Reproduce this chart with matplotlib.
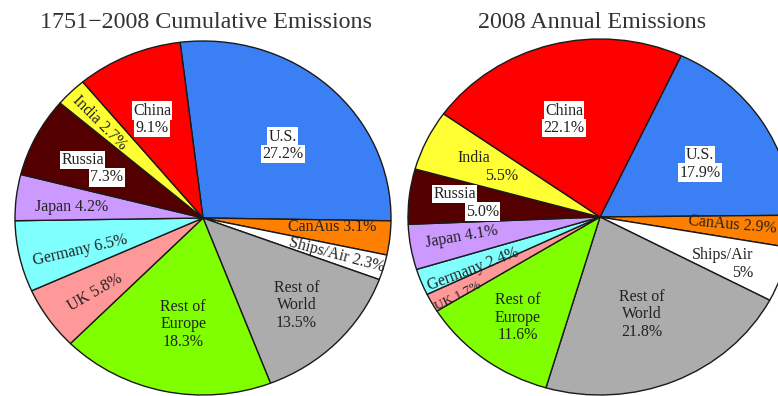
import numpy as np
import matplotlib.pyplot as plt

plt.rcParams['font.family'] = ['Liberation Serif', 'DejaVu Serif']

# share of CO2 emissions (%), listed clockwise starting at U.S.
regions = ['U.S.', 'CanAus', 'Ships/Air', 'Rest of World', 'Rest of Europe',
           'UK', 'Germany', 'Japan', 'Russia', 'India', 'China']
cum_share = [27.2, 3.1, 2.3, 13.5, 18.3, 5.8, 6.5, 4.2, 7.3, 2.7, 9.1]
ann_share = [17.9, 2.9, 5.0, 21.8, 11.6, 1.7, 2.4, 4.1, 5.0, 5.5, 22.1]

cum_labels = ['U.S.\n27.2%', 'CanAus 3.1%', 'Ships/Air 2.3%', 'Rest of\nWorld\n13.5%',
              'Rest of\nEurope\n18.3%', 'UK 5.8%', 'Germany 6.5%', 'Japan 4.2%',
              'Russia\n7.3%', 'India 2.7%', 'China\n9.1%']
ann_labels = ['U.S.\n17.9%', 'CanAus 2.9%', 'Ships/Air\n5%', 'Rest of\nWorld\n21.8%',
              'Rest of\nEurope\n11.6%', 'UK 1.7%', 'Germany 2.4%', 'Japan 4.1%',
              'Russia\n5.0%', 'India\n5.5%', 'China\n22.1%']

colors = ['#3a7ff4', '#ff8000', '#ffffff', '#acacac', '#80ff00',
          '#ff9999', '#80ffff', '#cc99ff', '#550000', '#ffff33', '#ff0000']

W, H = 778, 396
LINE = 17.5  # px between label lines


def draw_pie(rect, shares, labels, start, radii, shifts, rots, boxed, stagger, sizes):
    ax = fig.add_axes(rect)
    wedges, _ = ax.pie(shares, colors=colors, startangle=start, counterclock=False,
                       wedgeprops=dict(edgecolor='#1a1a1a', linewidth=1.0))
    ax.set_aspect('auto')
    ax.set_xlim(-1, 1)
    ax.set_ylim(-1, 1)
    ax.axis('off')
    for w, lab, r, da, rot, bx, st, fs in zip(wedges, labels, radii, shifts, rots, boxed, stagger, sizes):
        ang = np.deg2rad((w.theta1 + w.theta2) / 2 + da)
        x, y = r * np.cos(ang), r * np.sin(ang)
        lines = lab.split('\n')
        n = len(lines)
        for i, line in enumerate(lines):
            dy = (n - 1) / 2 * LINE - i * LINE
            dx = st * (2 * i - (n - 1))
            ax.annotate(line, (x, y), xytext=(dx, dy), textcoords='offset pixels',
                        ha='center', va='center', rotation=rot, fontsize=fs,
                        color='#222222',
                        bbox=dict(boxstyle='square,pad=0.08', fc='white', ec='none') if bx else None)
    return ax


fig = plt.figure(figsize=(W / 100, H / 100), dpi=100)

# left pie: centre (203, 218) px, radii 188 x 177
draw_pie([(203 - 188) / W, (H - 218 - 177) / H, 376 / W, 354 / H],
         cum_share, cum_labels, 97,
         radii=[0.59, 0.69, 0.74, 0.70, 0.61, 0.71, 0.68, 0.70, 0.64, 0.77, 0.62],
         shifts=[-4, 2.5, 0, 0, 2, 1.5, 3, 1.5, 1.5, 1, 2.6],
         rots=[0, 0, -15, 0, 0, 30, 13, 0, 0, -45, 0],
         boxed=[1, 0, 0, 0, 0, 0, 0, 0, 1, 0, 1],
         stagger=[0, 0, 0, 0, 0, 0, 0, 0, 12, 0, 0],
         sizes=[11.5] * 11)

# right pie: centre (600, 217) px, radii 192 x 178
draw_pie([(600 - 192) / W, (H - 217 - 178) / H, 384 / W, 356 / H],
         ann_share, ann_labels, 65,
         radii=[0.60, 0.69, 0.74, 0.59, 0.71, 0.86, 0.72, 0.73, 0.69, 0.65, 0.58],
         shifts=[-3, 1, -2, -1, 0, 2, 2.5, -1, 0, 0, 4],
         rots=[0, -5, 0, 0, 0, 27, 21, 10, 0, 0, 0],
         boxed=[1, 0, 0, 0, 0, 0, 0, 0, 1, 0, 1],
         stagger=[0, 0, 10, 0, 0, 0, 0, 0, 14, 14, 0],
         sizes=[11.5, 11.5, 11.5, 11.5, 11.5, 9.5, 11.5, 11.5, 11.5, 11.5, 11.5])

fig.text(206 / W, (H - 22) / H, '1751\u22122008 Cumulative Emissions', ha='center', va='center',
         fontsize=17.3, color='#333333')
fig.text(592 / W, (H - 22) / H, '2008 Annual Emissions', ha='center', va='center',
         fontsize=17.3, color='#333333')

fig.savefig('out.png', dpi=100)
